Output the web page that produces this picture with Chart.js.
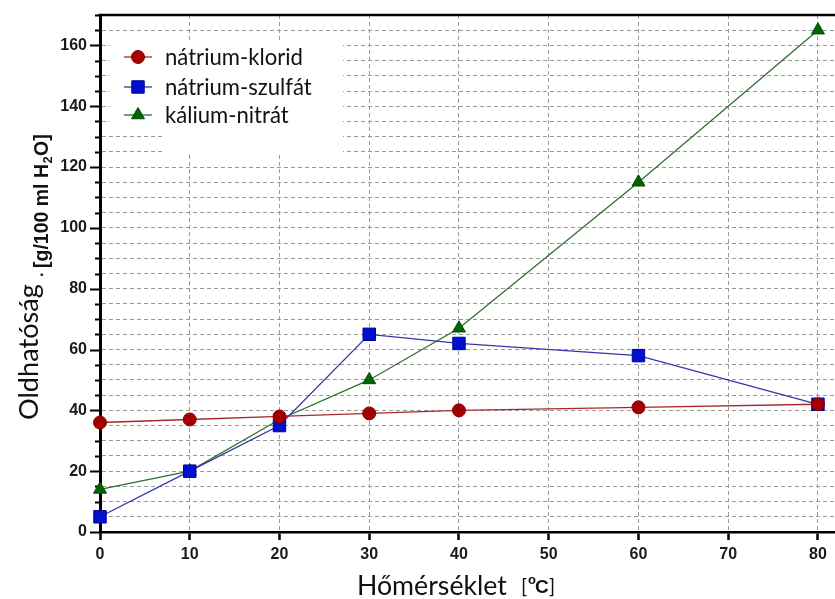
<!DOCTYPE html>
<html>
<head>
<meta charset="utf-8">
<script src="https://cdn.jsdelivr.net/npm/chart.js@4.4.0/dist/chart.umd.min.js"></script>
<style>
  html, body { margin: 0; padding: 0; background: #fff; }
  #wrap { width: 835px; height: 599px; }
</style>
</head>
<body>
<div id="wrap"><canvas id="chart"></canvas></div>
<script>
// adatok
const temperatures = [0, 10, 20, 30, 40, 60, 80];
const natriumKlorid = [36, 37, 38, 39, 40, 41, 42];
const natriumSzulfat = [5, 20, 35, 65, 62, 58, 42];
const kaliumNitrat = [14, 20, 37, 50, 67, 115, 165];
const seriesNames = ['nátrium-klorid', 'nátrium-szulfát', 'kálium-nitrát'];
const xTickValues = [0, 10, 20, 30, 40, 50, 60, 70, 80];

const LABEL_FONT = 'Lato, "Open Sans", sans-serif';
const TICK_FONT = '"Liberation Sans", Arial, sans-serif';

function toPoints(values) {
  return temperatures.map((t, i) => ({ x: t, y: values[i] }));
}

const datasets = [
  {
    label: seriesNames[0],
    data: toPoints(natriumKlorid),
    borderColor: '#a82828',
    backgroundColor: '#a50000',
    pointBackgroundColor: '#a50000',
    pointBorderColor: '#8a0000',
    pointStyle: 'circle',
    pointRadius: 6.5,
    pointBorderWidth: 1,
    borderWidth: 1.3,
    clip: false
  },
  {
    label: seriesNames[1],
    data: toPoints(natriumSzulfat),
    borderColor: '#3535a8',
    backgroundColor: '#0010cc',
    pointBackgroundColor: '#0010cc',
    pointBorderColor: '#0000a0',
    pointStyle: 'rect',
    pointRadius: 8.8,
    pointBorderWidth: 1,
    borderWidth: 1.3,
    clip: false
  },
  {
    label: seriesNames[2],
    data: toPoints(kaliumNitrat),
    borderColor: '#2f6f2f',
    backgroundColor: '#006400',
    pointBackgroundColor: '#006400',
    pointBorderColor: '#005000',
    pointStyle: 'triangle',
    pointRadius: [7.5, 7.5, 0, 7.5, 7.5, 7.5, 7.5],
    pointBorderWidth: 1,
    borderWidth: 1.3,
    clip: false
  }
];

// szöveg méretezése adott szélességre
function fitFont(ctx, text, width, weight, family) {
  ctx.font = weight + ' 100px ' + family;
  const w = ctx.measureText(text).width;
  return 100 * width / w;
}

const decor = {
  id: 'decor',
  beforeDatasetsDraw(chart) {
    const ctx = chart.ctx;
    const area = chart.chartArea;
    const ys = chart.scales.y;

    ctx.save();
    // keret felül
    ctx.strokeStyle = '#000';
    ctx.lineWidth = 2.5;
    ctx.beginPath();
    ctx.moveTo(area.left - 1.5, area.top);
    ctx.lineTo(area.right, area.top);
    ctx.stroke();

    // y tengely osztásai
    ctx.lineWidth = 2;
    for (let v = 0; v <= 170; v += 5) {
      const py = Math.round(ys.getPixelForValue(v)) + 0.5;
      const len = v % 20 === 0 ? 10 : 5;
      ctx.beginPath();
      ctx.moveTo(area.left - len, py);
      ctx.lineTo(area.left + 2, py);
      ctx.stroke();
    }

    // jelmagyarázat
    ctx.fillStyle = '#fff';
    ctx.fillRect(110, 40, 233, 87);
    ctx.fillRect(163, 127, 180, 28);
    const rows = [57, 87, 115];
    const size = fitFont(ctx, seriesNames[0], 138, 'normal', LABEL_FONT);
    datasets.forEach((ds, i) => {
      const y = rows[i];
      ctx.strokeStyle = ds.borderColor;
      ctx.lineWidth = 1.3;
      ctx.beginPath();
      ctx.moveTo(124, y);
      ctx.lineTo(152, y);
      ctx.stroke();
      ctx.fillStyle = ds.pointBackgroundColor;
      ctx.strokeStyle = ds.pointBorderColor;
      ctx.lineWidth = 1;
      const r = Array.isArray(ds.pointRadius) ? ds.pointRadius[0] : ds.pointRadius;
      Chart.helpers.drawPoint(ctx, { pointStyle: ds.pointStyle, radius: r, rotation: 0, borderWidth: 1 }, 138, y);
      ctx.fillStyle = '#111';
      ctx.font = 'normal ' + size + 'px ' + LABEL_FONT;
      ctx.textBaseline = 'middle';
      ctx.textAlign = 'left';
      ctx.fillText(ds.label, 165, y + 1);
    });

    // x tengely címe
    ctx.fillStyle = '#111';
    ctx.textBaseline = 'alphabetic';
    const xs = fitFont(ctx, 'Hőmérséklet', 150, 'normal', LABEL_FONT);
    ctx.font = 'normal ' + xs + 'px ' + LABEL_FONT;
    ctx.fillText('Hőmérséklet', 357, 595);
    ctx.font = 'normal 20px ' + LABEL_FONT;
    ctx.fillText('[', 521, 593);
    ctx.font = 'bold 13px ' + TICK_FONT;
    ctx.fillText('o', 528, 584);
    ctx.font = 'bold 19px ' + TICK_FONT;
    ctx.fillText('C', 535, 593);
    ctx.font = 'normal 20px ' + LABEL_FONT;
    ctx.fillText(']', 549, 593);

    // y tengely címe
    ctx.translate(38, 420);
    ctx.rotate(-Math.PI / 2);
    const ys1 = fitFont(ctx, 'Oldhatóság', 136, 'normal', LABEL_FONT);
    ctx.font = 'normal ' + ys1 + 'px ' + LABEL_FONT;
    ctx.fillText('Oldhatóság', 0, 0);
    ctx.font = 'bold 16px ' + TICK_FONT;
    ctx.fillText('·', 143, 9);
    const f = 19.5;
    ctx.font = 'bold ' + f + 'px ' + TICK_FONT;
    let x = 152;
    ctx.fillText('[g/100 ml H', x, 10);
    x += ctx.measureText('[g/100 ml H').width;
    ctx.font = 'bold ' + (f * 0.65) + 'px ' + TICK_FONT;
    ctx.fillText('2', x + 0.5, 14);
    x += ctx.measureText('2').width + 1;
    ctx.font = 'bold ' + f + 'px ' + TICK_FONT;
    ctx.fillText('O]', x, 10);
    ctx.restore();
  }
};

new Chart(document.getElementById('chart'), {
  type: 'line',
  data: { datasets: datasets },
  options: {
    animation: false,
    responsive: true,
    maintainAspectRatio: false,
    layout: { autoPadding: false, padding: { top: 15, right: 0, left: 0, bottom: 0 } },
    plugins: {
      legend: { display: false },
      tooltip: { enabled: false }
    },
    elements: { line: { tension: 0, fill: false } },
    scales: {
      x: {
        type: 'linear',
        min: 0,
        max: 81.9,
        afterBuildTicks: (scale) => { scale.ticks = xTickValues.map(v => ({ value: v })); },
        afterFit: (scale) => {
          scale.height = 67;
          scale.paddingLeft = 0;
          scale.paddingRight = 0;
        },
        grid: { color: '#9a9a9a', lineWidth: 1, tickLength: 8, tickColor: '#000', tickWidth: 2.5 },
        border: { color: '#000', width: 2.5, dash: [4, 3] },
        ticks: {
          font: { family: TICK_FONT, weight: 'bold', size: 16 },
          color: '#1a1a1a',
          padding: 5,
          maxRotation: 0,
          autoSkip: false
        }
      },
      y: {
        min: 0,
        max: 170,
        afterFit: (scale) => {
          scale.width = 100;
          scale.paddingTop = 0;
          scale.paddingBottom = 0;
        },
        grid: { color: '#9a9a9a', lineWidth: 1, drawTicks: false },
        border: { color: '#000', width: 3, dash: [4, 3] },
        ticks: {
          stepSize: 5,
          autoSkip: false,
          padding: 13,
          font: { family: TICK_FONT, weight: 'bold', size: 16 },
          color: '#1a1a1a',
          callback: (v) => (v % 20 === 0 ? v : '')
        }
      }
    }
  },
  plugins: [decor]
});
</script>
</body>
</html>
